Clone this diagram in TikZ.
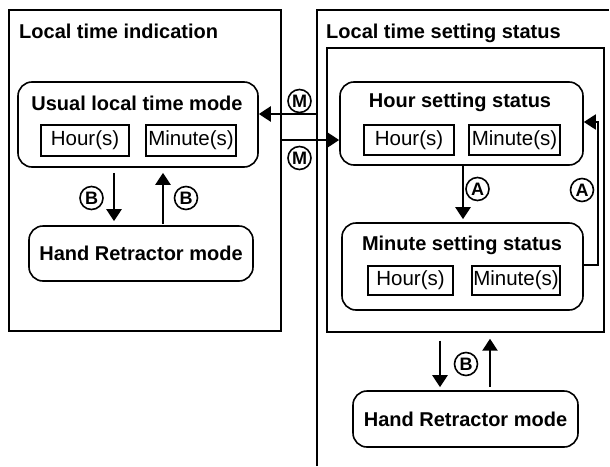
\documentclass[tikz,border=0pt]{standalone}
\usepackage{fontspec}
\setmainfont{Liberation Sans}
\usetikzlibrary{arrows.meta}
\tikzset{
  frame/.style={draw,line width=1.4pt,inner sep=0pt},
  modebox/.style={draw,rounded corners=14pt,line width=1.6pt,inner sep=0pt,font=\fontsize{20}{23}\selectfont\bfseries},
  digit/.style={draw,line width=1.1pt,inner sep=0pt,font=\fontsize{20.5}{23}\selectfont},
  title/.style={inner sep=0pt,font=\fontsize{20}{23}\selectfont\bfseries},
  key/.style={circle,draw,line width=1.6pt,inner sep=0pt,minimum size=23pt,font=\fontsize{18}{20}\selectfont\bfseries},
  arr/.style={line width=2.4pt,-{Triangle[length=12pt,width=15pt]}},
}
\begin{document}
\begin{tikzpicture}[x=1pt,y=-1pt]
				\useasboundingbox (0,0) rectangle (610,466);
				% frames
				\node[frame,minimum width=272pt,minimum height=321pt] (indic) at (145,170.5) {};
				\node[title,anchor=base west] (indictitle) at (19,38) {Local time indication};
				\coordinate (setedge) at (317,10);
				\draw[line width=1.4pt] (317,466) -- (setedge) -- (609,10);
				\node[title,anchor=base west] (settitle) at (326,38) {Local time setting status};
				\node[frame,minimum width=277pt,minimum height=284pt] (setin) at (465.5,190) {};
				% local time indication
				\node[modebox,minimum width=240pt,minimum height=85pt] (usual) at (138,124.5) {};
				\node[title,anchor=base] (usualtitle) at (137,110) {Usual local time mode};
				\node[digit,minimum width=88pt,minimum height=31pt] (usualH) at (85,140.5) {Hour(s)};
				\node[digit,minimum width=90pt,minimum height=31pt] (usualM) at (191,140.5) {Minute(s)};
				\node[modebox,minimum width=224pt,minimum height=55pt] (handL) at (141,253.5) {Hand Retractor mode};
				\draw[arr,shorten <=5pt,shorten >=4pt] ([xshift=-24pt]usual.south) -- ([xshift=-24pt]usual.south |- handL.north);
				\draw[arr,shorten <=1pt,shorten >=5pt] ([xshift=25pt]usual.south |- handL.north) -- ([xshift=25pt]usual.south);
				\node[key] (keyB1) at (91.5,198) {B};
				\node[key] (keyB2) at (186,198) {B};
				% local time setting status
				\node[modebox,minimum width=243pt,minimum height=83pt] (hourset) at (461.5,123.5) {};
				\node[title,anchor=base] (hoursettitle) at (460,107) {Hour setting status};
				\node[digit,minimum width=90pt,minimum height=30pt] (hoursetH) at (409,140) {Hour(s)};
				\node[digit,minimum width=91pt,minimum height=30pt] (hoursetM) at (514.5,140) {Minute(s)};
				\node[modebox,minimum width=241pt,minimum height=87pt] (minset) at (462.5,266.5) {};
				\node[title,anchor=base] (minsettitle) at (462,250) {Minute setting status};
				\node[digit,minimum width=85pt,minimum height=29pt] (minsetH) at (410.5,280.5) {Hour(s)};
				\node[digit,minimum width=88pt,minimum height=29pt] (minsetM) at (516,280.5) {Minute(s)};
				\draw[arr,shorten >=3pt] ([xshift=1.5pt]hourset.south) -- ([xshift=1.5pt]hourset.south |- minset.north);
				\coordinate (ret) at (598,190);
				\draw[arr,line width=1.8pt] ([yshift=1.5pt]minset.east) -| (ret) |- ([yshift=1.5pt]hourset.east);
				\node[key] (keyA1) at (477.5,189) {A};
				\node[key] (keyA2) at (582,190) {A};
				\node[modebox,minimum width=225pt,minimum height=56pt] (handR) at (465.5,419) {Hand Retractor mode};
				\draw[arr,shorten <=8pt,shorten >=3pt] ([xshift=-25.5pt]setin.south) -- ([xshift=-25.5pt]handR.north);
				\draw[arr,shorten <=3pt,shorten >=6pt] ([xshift=24.5pt]handR.north) -- ([xshift=24.5pt]setin.south);
				\node[key] (keyB3) at (466,364) {B};
				% mode keys between the frames
				\draw[arr] ([yshift=10.5pt]usual.east -| setedge) -- ([yshift=10.5pt]usual.east);
				\draw[arr] ([yshift=-16.5pt]hourset.west -| indic.east) -- ([yshift=-16.5pt]hourset.west);
				\node[key] (keyM1) at (299.5,101) {M};
				\node[key] (keyM2) at (299.5,158) {M};
			\end{tikzpicture}
\end{document}
